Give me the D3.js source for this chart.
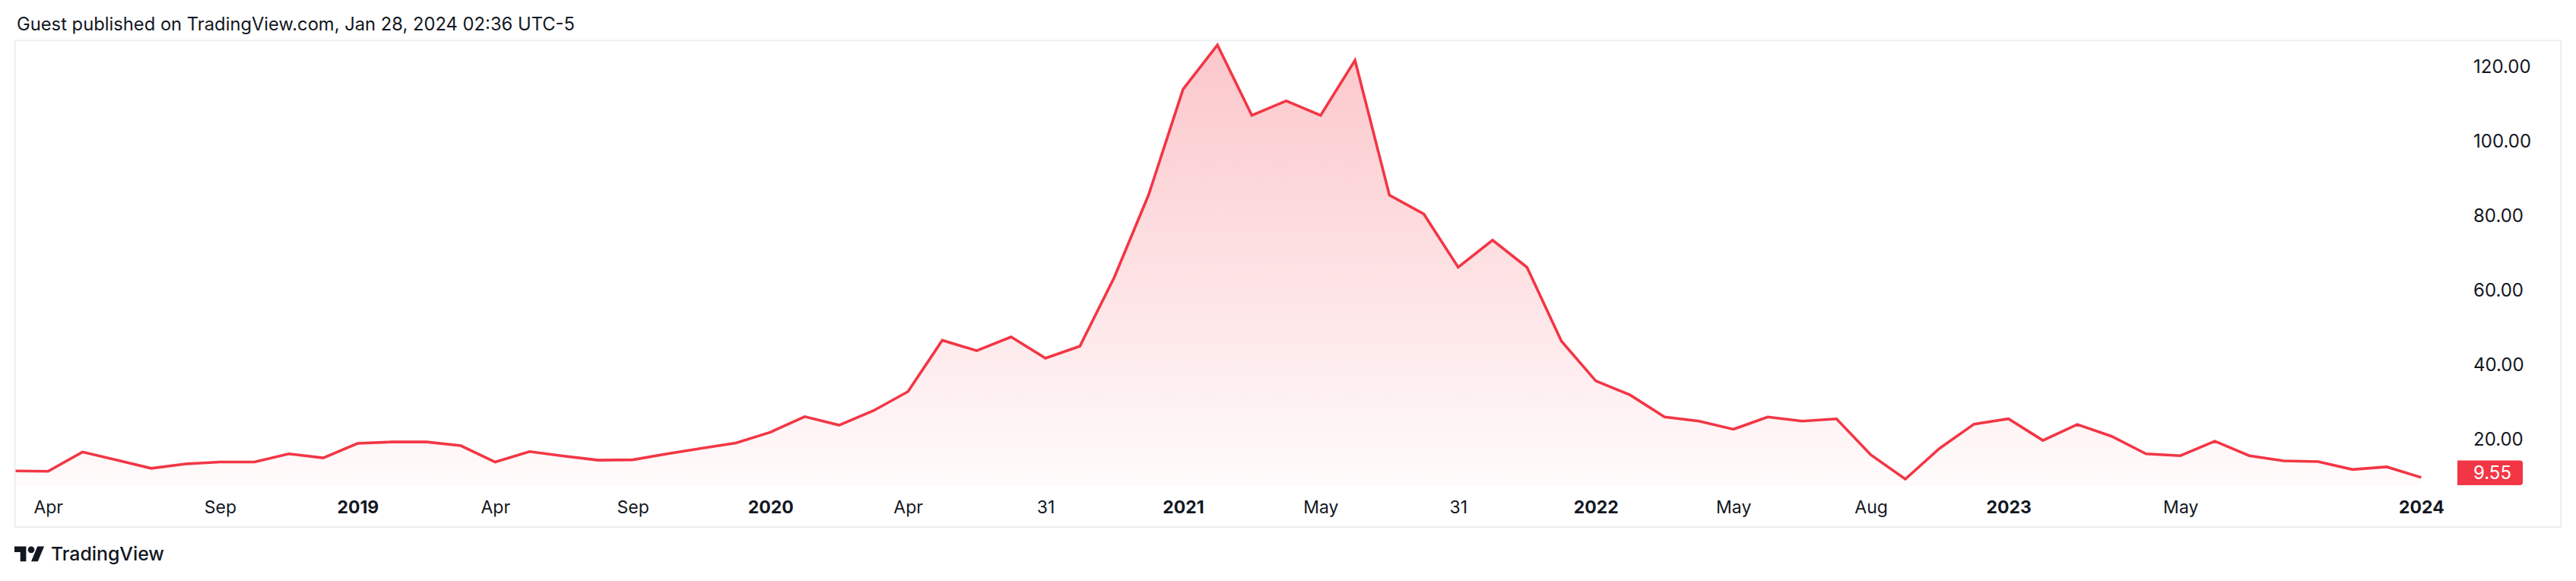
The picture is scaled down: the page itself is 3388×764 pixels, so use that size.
<!DOCTYPE html>
<html>
<head>
<meta charset="utf-8">
<script src="https://cdn.jsdelivr.net/npm/d3@7"></script>
<style>
  html, body { margin: 0; padding: 0; background: #ffffff; }
  svg { display: block; font-family: Inter, "Noto Sans", Roboto, sans-serif; }
</style>
</head>
<body>
<svg id="chart" width="3388" height="764"></svg>
<script>
// ---- data (monthly points) ----
const values = [
  11.3, 11.2, 16.4, 14.2, 12.0, 13.2, 13.7, 13.7, 15.9, 14.8,
  18.7, 19.1, 19.1, 18.1, 13.7, 16.5, 15.3, 14.2, 14.3, 15.9,
  17.4, 18.8, 21.7, 25.9, 23.6, 27.5, 32.6, 46.4, 43.6, 47.3,
  41.6, 44.8, 63.3, 85.5, 113.8, 125.7, 106.8, 110.7, 106.8, 121.6,
  85.4, 80.3, 66.0, 73.3, 66.0, 46.2, 35.5, 31.7, 25.8, 24.7,
  22.5, 25.8, 24.7, 25.3, 15.6, 9.1, 17.4, 23.9, 25.3, 19.5,
  23.8, 20.6, 15.9, 15.4, 19.3, 15.4, 14.0, 13.8, 11.7, 12.4,
  9.55
];
const timeTickIndex = [1, 6, 10, 14, 18, 22, 26, 30, 34, 38, 42, 46, 50, 54, 58, 63, 70];
const timeTickLabel = ["Apr", "Sep", "2019", "Apr", "Sep", "2020", "Apr", "31", "2021", "May", "31", "2022", "May", "Aug", "2023", "May", "2024"];
const priceTicks = [20, 40, 60, 80, 100, 120];
const headerText = "Guest published on TradingView.com, Jan 28, 2024 02:36 UTC-5";
const lastLabel = "9.55";

// ---- layout ----
const W = 3388, H = 764;
const pane = { left: 19.5, top: 53.5, right: 3368, bottom: 693 };
const plotBottom = 639;
const priceLabelX = 3253;
const lineColor = "#F23645";
const textColor = "#131722";

const svg = d3.select("#chart");

// scales
const x = d3.scaleLinear().domain([0, values.length - 1]).range([18, 3184.4]);
const y = d3.scaleLinear().domain([20, 120]).range([576.7, 87.1]);

// header
const header = svg.append("text")
  .attr("x", 22).attr("y", 39.5)
  .attr("fill", textColor)
  .style("font-size", "22px")
  .text(headerText);
(function fit(el, target) {
  const w = el.node().getComputedTextLength();
  const fs = 22 * target / w;
  el.style("font-size", fs.toFixed(2) + "px");
})(header, 734);

// outer pane border
svg.append("rect")
  .attr("x", pane.left).attr("y", pane.top)
  .attr("width", pane.right - pane.left).attr("height", pane.bottom - pane.top)
  .attr("fill", "#ffffff")
  .attr("stroke", "#EDEEF3").attr("stroke-width", 2);

// clip
const defs = svg.append("defs");
defs.append("clipPath").attr("id", "plotClip")
  .append("rect")
  .attr("x", pane.left + 1).attr("y", pane.top + 1)
  .attr("width", 3225 - pane.left).attr("height", plotBottom - pane.top - 1);

const grad = defs.append("linearGradient")
  .attr("id", "areaGrad")
  .attr("gradientUnits", "userSpaceOnUse")
  .attr("x1", 0).attr("x2", 0)
  .attr("y1", y(d3.max(values))).attr("y2", plotBottom);
grad.append("stop").attr("offset", 0).attr("stop-color", lineColor).attr("stop-opacity", 0.28);
grad.append("stop").attr("offset", 1).attr("stop-color", lineColor).attr("stop-opacity", 0.02);

const g = svg.append("g").attr("clip-path", "url(#plotClip)");

const area = d3.area()
  .x((d, i) => x(i))
  .y0(plotBottom)
  .y1(d => y(d));
const line = d3.line()
  .x((d, i) => x(i))
  .y(d => y(d));

g.append("path").datum(values)
  .attr("d", area)
  .attr("fill", "url(#areaGrad)");
g.append("path").datum(values)
  .attr("d", line)
  .attr("fill", "none")
  .attr("stroke", lineColor)
  .attr("stroke-width", 3.6)
  .attr("stroke-linejoin", "miter")
  .attr("stroke-linecap", "butt");

// time axis
const xAxis = d3.axisBottom(x)
  .tickValues(timeTickIndex)
  .tickFormat((d, i) => timeTickLabel[i])
  .tickSize(0).tickPadding(0);
const xg = svg.append("g").attr("transform", "translate(0,667)").call(xAxis);
xg.select(".domain").remove();
xg.selectAll("text")
  .attr("y", 0).attr("dy", "0.35em")
  .attr("fill", textColor)
  .style("font-family", "Inter, 'Noto Sans', sans-serif")
  .style("font-size", "23px")
  .style("font-weight", (d, i) => /^\d{4}$/.test(timeTickLabel[i]) ? 700 : 400);

// price axis
const yAxis = d3.axisRight(y)
  .tickValues(priceTicks)
  .tickFormat(d3.format(".2f"))
  .tickSize(0).tickPadding(0);
const yg = svg.append("g").attr("transform", `translate(${priceLabelX},0)`).call(yAxis);
yg.select(".domain").remove();
yg.selectAll("text")
  .attr("x", 0).attr("dy", "0.35em")
  .attr("text-anchor", "start")
  .attr("fill", textColor)
  .style("font-family", "Inter, 'Noto Sans', sans-serif")
  .style("font-size", "24px");

// last value label (clamped to the pane bottom)
const lastVal = values[values.length - 1];
const boxH = 32.4;
const ly = Math.min(y(lastVal), plotBottom - 1 - boxH / 2);
const bx0 = 3232, bx1 = 3318, r = 4;
svg.append("path")
  .attr("d", `M${bx0},${ly - boxH / 2} H${bx1 - r} Q${bx1},${ly - boxH / 2} ${bx1},${ly - boxH / 2 + r} V${ly + boxH / 2 - r} Q${bx1},${ly + boxH / 2} ${bx1 - r},${ly + boxH / 2} H${bx0} Z`)
  .attr("fill", lineColor);
svg.append("text")
  .attr("x", priceLabelX).attr("y", ly).attr("dy", "0.35em")
  .attr("fill", "#ffffff")
  .style("font-size", "24px")
  .text(lastLabel);

// TradingView logo
const logo = svg.append("g").attr("transform", "translate(19,714) scale(1.1)");
logo.append("path").attr("d", "M14 22H7V11H0V4h14v18zM28 22h-8l7.5-18h8L28 22z").attr("fill", textColor);
logo.append("circle").attr("cx", 20).attr("cy", 8).attr("r", 4).attr("fill", textColor);
const logoText = svg.append("text")
  .attr("x", 67).attr("y", 737)
  .attr("fill", textColor)
  .style("font-size", "24px")
  .style("font-weight", 500)
  .text("TradingView");
(function fit(el, target) {
  const w = el.node().getComputedTextLength();
  el.style("font-size", (24 * target / w).toFixed(2) + "px");
})(logoText, 149);
</script>
</body>
</html>
